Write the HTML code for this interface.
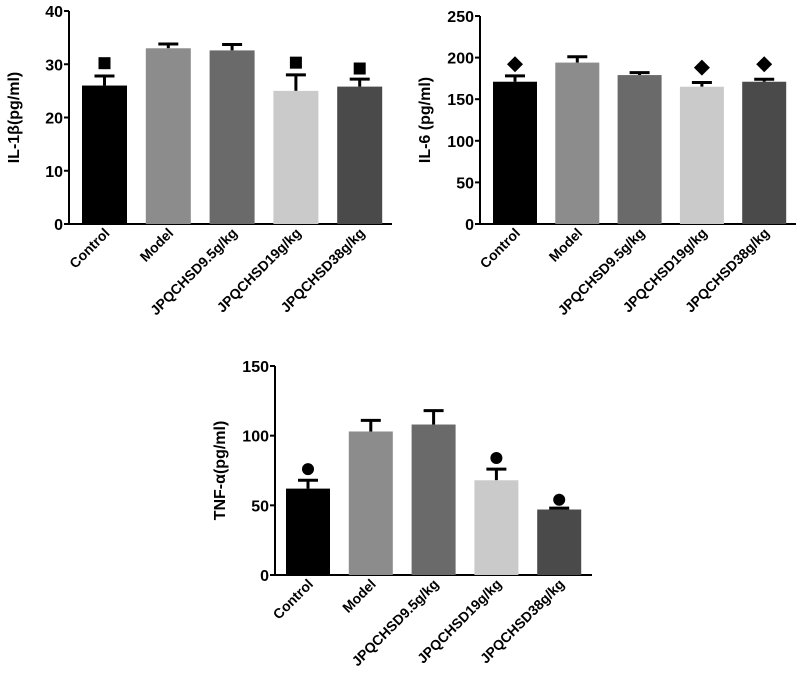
<!DOCTYPE html>
<html><head><meta charset="utf-8"><style>
body{margin:0;background:#fff;width:800px;height:688px;overflow:hidden}
svg text{font-family:"Liberation Sans",Arial,sans-serif;font-weight:bold;fill:#000}
</style></head><body>
<svg id="s" width="800" height="688"></svg>
<script>
const categories=["Control","Model","JPQCHSD9.5g/kg","JPQCHSD19g/kg","JPQCHSD38g/kg"];
const colors=["#000000","#8c8c8c","#6a6a6a","#cacaca","#4a4a4a"];
const il1Values=[26,33,32.6,25,25.8];
const il1Err=[27.8,33.8,33.7,28,27.2];
const il1Marks=[30.2,null,null,30.3,29.2];
const il1Ticks=[0,10,20,30,40];
const il6Values=[171,194,179,165,171];
const il6Err=[178,201,182,170,174];
const il6Marks=[192,null,null,188,192];
const il6Ticks=[0,50,100,150,200,250];
const tnfValues=[62,103,108,68,47];
const tnfErr=[68,111,118,76,48];
const tnfMarks=[76,null,null,84,54];
const tnfTicks=[0,50,100,150];
const NS="http://www.w3.org/2000/svg";
const svg=document.getElementById('s');
function mk(t,a,p){const e=document.createElementNS(NS,t);for(const k in a)e.setAttribute(k,a[k]);(p||svg).appendChild(e);return e;}
function chart(cfg){
  const g=mk('g',{});
  
  
  const max=cfg.ticks[cfg.ticks.length-1];
  const y=v=>cfg.y0-(v/max)*(cfg.y0-cfg.y1);
  const bx=i=>cfg.b0+i*cfg.step;
  const ax=mk('path',{d:`M${cfg.x0} ${cfg.y1}V${cfg.y0}H${cfg.xe}`,stroke:'#000','stroke-width':2,fill:'none'},g);
  
  
  cfg.ticks.forEach(t=>{
    mk('line',{x1:cfg.x0-5,x2:cfg.x0,y1:y(t),y2:y(t),stroke:'#000','stroke-width':2},g);
    const tx=mk('text',{x:cfg.x0-6,y:y(t)+6,'text-anchor':'end','font-size':16},g);
    tx.textContent=t;
    
    
  });
  const tt=mk('text',{transform:`translate(${cfg.x0-50},${(cfg.y0+cfg.y1)/2}) rotate(-90)`,'text-anchor':'middle','font-size':16},g);
  tt.textContent=cfg.title;
  
  
  categories.forEach((c,i)=>{
    const x=bx(i),cx=x+cfg.w/2;
    const ey=y(cfg.err[i]);
    const el=mk('path',{d:`M${cx} ${y(cfg.vals[i])}V${ey}M${cx-10} ${ey}H${cx+10}`,stroke:'#000','stroke-width':3,fill:'none'},g);
    
    
    const r=mk('rect',{x:x,y:y(cfg.vals[i]),width:cfg.w,height:cfg.y0-y(cfg.vals[i]),fill:colors[i]},g);
    
    
    const m=cfg.marks[i];
    if(m!=null){
      const my=y(m);let s;
      if(cfg.shape==='sq')s=mk('rect',{x:cx-6,y:my-6,width:12,height:12,fill:'#000'},g);
      else if(cfg.shape==='di')s=mk('path',{d:`M${cx} ${my-8}L${cx+8} ${my}L${cx} ${my+8}L${cx-8} ${my}Z`,fill:'#000'},g);
      else s=mk('circle',{cx:cx,cy:my,r:6,fill:'#000'},g);
      
      
    }
    const lb=mk('text',{transform:`translate(${cx+6},${cfg.y0+10}) rotate(-45)`,'text-anchor':'end','font-size':14},g);
    lb.textContent=c;
    
    
  });
}
chart({name:'il1b-chart',title:'IL-1β(pg/ml)',ticks:il1Ticks,vals:il1Values,err:il1Err,marks:il1Marks,shape:'sq',x0:69,xe:392,y0:224,y1:11,b0:82,step:63.8,w:45});
chart({name:'il6-chart',title:'IL-6 (pg/ml)',ticks:il6Ticks,vals:il6Values,err:il6Err,marks:il6Marks,shape:'di',x0:480,xe:796,y0:224,y1:16,b0:493,step:62.3,w:44});
chart({name:'tnfa-chart',title:'TNF-α(pg/ml)',ticks:tnfTicks,vals:tnfValues,err:tnfErr,marks:tnfMarks,shape:'ci',x0:275,xe:592,y0:575,y1:366,b0:286,step:62.8,w:44});
</script>
</body></html>
